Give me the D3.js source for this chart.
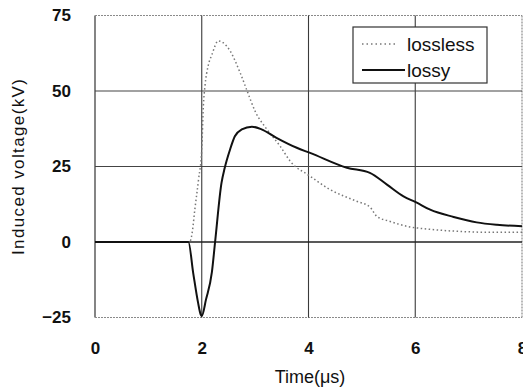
<!DOCTYPE html>
<html>
<head>
<meta charset="utf-8">
<script src="https://cdn.jsdelivr.net/npm/d3@7"></script>
<style>
  html, body { margin: 0; padding: 0; background: #fff; }
  svg { display: block; font-family: "Liberation Sans", Arial, sans-serif; }
</style>
</head>
<body>
<svg id="chart" width="523" height="387"></svg>
<script>
// ── Data ───────────────────────────────────────────────────────────────────
const xTicks = [0, 2, 4, 6, 8];
const yTicks = [-25, 0, 25, 50, 75];
const seriesNames = ['lossless', 'lossy'];

// lossless: time (µs) / induced voltage (kV)
const losslessT = [0, 1.77, 1.82, 1.87, 1.94, 2.0, 2.03, 2.06, 2.12, 2.19, 2.31, 2.4, 2.53, 2.72, 2.84, 3.0, 3.22, 3.47, 3.66, 4.03, 4.4, 4.9, 5.15, 5.28, 5.53, 5.9, 6.22, 6.84, 7.47, 8.0];
const losslessV = [0, 0, 3, 10.7, 20.7, 30.6, 45, 51.6, 58.3, 62, 66.6, 66, 63.3, 56, 50.5, 43.3, 37.3, 31.7, 26.7, 21.8, 17.4, 13.5, 11.6, 8.5, 6.8, 5.0, 4.3, 3.5, 3.2, 3.2];

// lossy
const lossyT = [0, 1.75, 1.84, 1.93, 1.98, 2.0, 2.08, 2.19, 2.25, 2.37, 2.43, 2.53, 2.62, 2.75, 2.94, 3.12, 3.4, 3.78, 4.03, 4.72, 5.15, 5.47, 5.78, 6.02, 6.28, 6.72, 7.15, 7.53, 8.0];
const lossyV = [0, 0, -10.3, -20, -24, -24.5, -19, -10, 0, 19.6, 24.5, 30.6, 35, 37.3, 38.2, 37.3, 34.5, 31.2, 29.5, 24.6, 22.9, 19, 15.1, 13.1, 10.7, 8.3, 6.5, 5.7, 5.2];

// ── Layout ──────────────────────────────────────────────────────────────────
const plot = { left: 95, right: 522, top: 15.5, bottom: 317.5 };

const svg = d3.select('#chart');

const x = d3.scaleLinear().domain([0, 8]).range([plot.left, plot.right]);
const y = d3.scaleLinear().domain([-25, 75]).range([plot.bottom, plot.top]);

// ── Frame: left solid, other sides faint dotted ────────────────────────────
const frame = svg.append('g').attr('class', 'frame');
frame.append('line')
  .attr('x1', plot.left).attr('x2', plot.left)
  .attr('y1', plot.top).attr('y2', plot.bottom)
  .attr('stroke', '#333').attr('stroke-width', 1.2);
[[plot.left, plot.top, plot.right, plot.top],
 [plot.left, plot.bottom, plot.right, plot.bottom],
 [plot.right, plot.top, plot.right, plot.bottom]].forEach(([x1, y1, x2, y2]) => {
  frame.append('line')
    .attr('x1', x1).attr('y1', y1).attr('x2', x2).attr('y2', y2)
    .attr('stroke', '#8a8a8a').attr('stroke-width', 1.2)
    .attr('stroke-dasharray', '2,1');
});

// ── Grid lines ─────────────────────────────────────────────────────────────
svg.append('g')
  .attr('class', 'grid-x')
  .selectAll('line')
  .data(xTicks.filter(d => d > 0 && d < 8))
  .join('line')
    .attr('x1', d => x(d)).attr('x2', d => x(d))
    .attr('y1', plot.top).attr('y2', plot.bottom)
    .attr('stroke', '#3a3a3a')
    .attr('stroke-width', 1.1);

svg.append('g')
  .attr('class', 'grid-y')
  .selectAll('line')
  .data(yTicks.filter(d => d > -25 && d < 75))
  .join('line')
    .attr('x1', plot.left).attr('x2', plot.right)
    .attr('y1', d => y(d)).attr('y2', d => y(d))
    .attr('stroke', d => d === 0 ? '#222' : '#444')
    .attr('stroke-width', d => d === 0 ? 1.6 : 1.2);

// ── Tick labels via axes (no domain, no tick marks) ────────────────────────
const yAxis = svg.append('g')
  .attr('transform', `translate(${plot.left - 24},0)`)
  .call(d3.axisLeft(y).tickValues(yTicks).tickSize(0).tickPadding(0));
yAxis.select('.domain').remove();
yAxis.selectAll('text')
  .attr('font-size', 17).attr('font-weight', 'bold')
  .attr('font-family', '"Liberation Sans", Arial, sans-serif')
  .attr('fill', '#111')
  .text(d => d < 0 ? '\u2212' + Math.abs(d) : d);

const xAxis = svg.append('g')
  .attr('transform', `translate(0,${plot.bottom + 24})`)
  .call(d3.axisBottom(x).tickValues(xTicks).tickSize(0).tickPadding(0));
xAxis.select('.domain').remove();
xAxis.selectAll('text')
  .attr('font-size', 17).attr('font-weight', 'bold')
  .attr('font-family', '"Liberation Sans", Arial, sans-serif')
  .attr('fill', '#111');

// ── Axis titles ────────────────────────────────────────────────────────────
svg.append('text')
  .attr('x', 310).attr('y', 383)
  .attr('text-anchor', 'middle')
  .attr('font-size', 18)
  .attr('fill', '#111')
  .text('Time(\u03bcs)');

svg.append('text')
  .attr('transform', 'translate(24,167) rotate(-90)')
  .attr('text-anchor', 'middle')
  .attr('font-size', 17)
  .attr('fill', '#111')
  .attr('textLength', 176)
  .attr('lengthAdjust', 'spacing')
  .text('Induced voltage(kV)');

// ── Curves ─────────────────────────────────────────────────────────────────
const line = d3.line()
  .x(d => x(d[0]))
  .y(d => y(d[1]))
  .curve(d3.curveMonotoneX);

const lossless = losslessT.map((t, i) => [t, losslessV[i]]);
const lossy = lossyT.map((t, i) => [t, lossyV[i]]);

svg.append('path')
  .attr('d', line(lossless))
  .attr('fill', 'none')
  .attr('stroke', '#777')
  .attr('stroke-width', 1.5)
  .attr('stroke-dasharray', '1.5,2.5');

svg.append('path')
  .attr('d', line(lossy))
  .attr('fill', 'none')
  .attr('stroke', '#111')
  .attr('stroke-width', 2);

// ── Legend ─────────────────────────────────────────────────────────────────
const legend = svg.append('g').attr('class', 'legend');
legend.append('rect')
  .attr('x', 353).attr('y', 27).attr('width', 134).attr('height', 56)
  .attr('fill', '#fff').attr('stroke', '#333').attr('stroke-width', 1.2);

const legendStyles = [
  { stroke: '#777', width: 1.5, dash: '1.5,3', x1: 362, x2: 398, y: 44 },
  { stroke: '#111', width: 2, dash: null, x1: 362, x2: 405, y: 70 },
];
seriesNames.forEach((name, i) => {
  const s = legendStyles[i];
  legend.append('line')
    .attr('x1', s.x1).attr('x2', s.x2).attr('y1', s.y).attr('y2', s.y)
    .attr('stroke', s.stroke).attr('stroke-width', s.width)
    .attr('stroke-dasharray', s.dash);
  legend.append('text')
    .attr('x', 407).attr('y', s.y + 7)
    .attr('font-size', 19)
    .attr('fill', '#111')
    .text(name);
});
</script>
</body>
</html>
